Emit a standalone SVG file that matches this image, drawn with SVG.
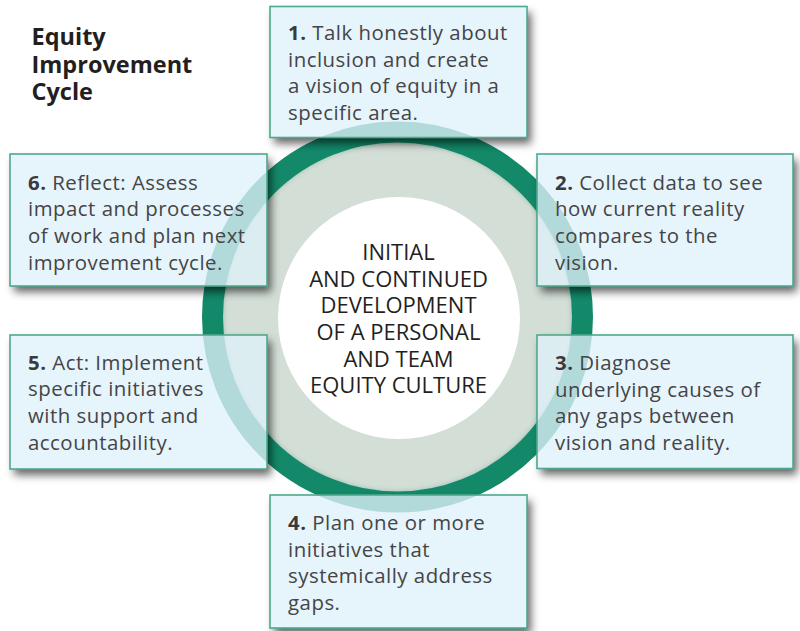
<svg xmlns="http://www.w3.org/2000/svg" width="800" height="631" viewBox="0 0 800 631">
  <defs>
    <style>
      .box { fill: #dff1fa; fill-opacity: 0.78; stroke: #4fa98c; stroke-width: 1.6; }
      .txt { font-family: "Open Sans", "Noto Sans", sans-serif; font-size: 20.4px; letter-spacing: 0.5px; fill: #454446; }
      .num { font-weight: bold; fill: #3a393b; }
      .hub { font-family: "Open Sans", "Noto Sans", sans-serif; font-size: 22px; fill: #231f20; text-anchor: middle; }
      .title { font-family: "Open Sans", "Noto Sans", sans-serif; font-size: 23.5px; font-weight: bold; fill: #231f20; }
      .shadow { fill: #000; fill-opacity: 0.6; }
    </style>
    <filter id="soft" x="-20%" y="-20%" width="140%" height="140%">
      <feGaussianBlur stdDeviation="4"/>
    </filter>
    <filter id="edge" x="-10%" y="-10%" width="120%" height="120%">
      <feGaussianBlur stdDeviation="2.5"/>
    </filter>
    <!-- shadows only fall outside the (translucent) step boxes -->
    <mask id="outsideBoxes" maskUnits="userSpaceOnUse" x="0" y="0" width="800" height="631">
      <rect x="0" y="0" width="800" height="631" fill="#fff"/>
      <rect x="270" y="6.5" width="257" height="131" fill="#000"/>
      <rect x="537" y="154" width="256" height="132" fill="#000"/>
      <rect x="537" y="335" width="256" height="133.5" fill="#000"/>
      <rect x="270" y="495" width="257" height="133" fill="#000"/>
      <rect x="10" y="335" width="257" height="134" fill="#000"/>
      <rect x="10" y="154" width="257" height="132" fill="#000"/>
    </mask>
  </defs>

  <rect x="0" y="0" width="800" height="631" fill="#ffffff"/>

  <!-- title -->
  <g id="title">
    <text class="title" x="31.5" y="45">Equity</text>
    <text class="title" x="31.5" y="72.5">Improvement</text>
    <text class="title" x="31.5" y="100">Cycle</text>
  </g>

  <!-- central hub: ring, tinted disc, white core -->
  <g id="hub">
    <circle cx="397.5" cy="317" r="176" fill="#d3ded6"/>
    <circle cx="397.5" cy="317" r="178" fill="none" stroke="#0e6e52" stroke-width="6" stroke-opacity="0.35" filter="url(#edge)"/>
    <circle cx="397.5" cy="317" r="185" fill="none" stroke="#13896a" stroke-width="21"/>
    <circle cx="399" cy="318" r="121" fill="#ffffff"/>
    <text class="hub" x="398.5" y="260">INITIAL</text>
    <text class="hub" x="398.5" y="286.7">AND CONTINUED</text>
    <text class="hub" x="398.5" y="313.3">DEVELOPMENT</text>
    <text class="hub" x="398.5" y="340">OF A PERSONAL</text>
    <text class="hub" x="398.5" y="366.7">AND TEAM</text>
    <text class="hub" x="398.5" y="393.3">EQUITY CULTURE</text>
  </g>

  <!-- drop shadows of the step boxes -->
  <g id="shadows" mask="url(#outsideBoxes)">
    <g filter="url(#soft)">
      <rect class="shadow" x="274" y="12.5" width="257" height="131"/>
      <rect class="shadow" x="541" y="160" width="256" height="132"/>
      <rect class="shadow" x="541" y="341" width="256" height="133.5"/>
      <rect class="shadow" x="274" y="501" width="257" height="133"/>
      <rect class="shadow" x="14" y="341" width="257" height="134"/>
      <rect class="shadow" x="14" y="160" width="257" height="132"/>
    </g>
  </g>

  <!-- step boxes -->
  <g id="step1">
    <rect class="box" x="270" y="6.5" width="257" height="131"/>
    <text class="txt" x="288" y="39.5"><tspan class="num">1.</tspan> Talk honestly about</text>
    <text class="txt" x="288" y="66.5">inclusion and create</text>
    <text class="txt" x="288" y="93.3">a vision of equity in a</text>
    <text class="txt" x="288" y="120">specific area.</text>
  </g>
  <g id="step2">
    <rect class="box" x="537" y="154" width="256" height="132"/>
    <text class="txt" x="555" y="189.5"><tspan class="num">2.</tspan> Collect data to see</text>
    <text class="txt" x="555" y="216.2">how current reality</text>
    <text class="txt" x="555" y="242.8">compares to the</text>
    <text class="txt" x="555" y="269.5">vision.</text>
  </g>
  <g id="step3">
    <rect class="box" x="537" y="335" width="256" height="133.5"/>
    <text class="txt" x="555" y="370"><tspan class="num">3.</tspan> Diagnose</text>
    <text class="txt" x="555" y="396.7">underlying causes of</text>
    <text class="txt" x="555" y="423.3">any gaps between</text>
    <text class="txt" x="555" y="450">vision and reality.</text>
  </g>
  <g id="step4">
    <rect class="box" x="270" y="495" width="257" height="133"/>
    <text class="txt" x="288" y="530"><tspan class="num">4.</tspan> Plan one or more</text>
    <text class="txt" x="288" y="556.7">initiatives that</text>
    <text class="txt" x="288" y="583.3">systemically address</text>
    <text class="txt" x="288" y="610">gaps.</text>
  </g>
  <g id="step5">
    <rect class="box" x="10" y="335" width="257" height="134"/>
    <text class="txt" x="28" y="369.5"><tspan class="num">5.</tspan> Act: Implement</text>
    <text class="txt" x="28" y="396.2">specific initiatives</text>
    <text class="txt" x="28" y="422.8">with support and</text>
    <text class="txt" x="28" y="449.5">accountability.</text>
  </g>
  <g id="step6">
    <rect class="box" x="10" y="154" width="257" height="132"/>
    <text class="txt" x="28" y="189.5"><tspan class="num">6.</tspan> Reflect: Assess</text>
    <text class="txt" x="28" y="216.2">impact and processes</text>
    <text class="txt" x="28" y="242.8">of work and plan next</text>
    <text class="txt" x="28" y="269.5">improvement cycle.</text>
  </g>

  <!-- no connectors in this cycle diagram -->
  <g id="connectors"/>
</svg>
